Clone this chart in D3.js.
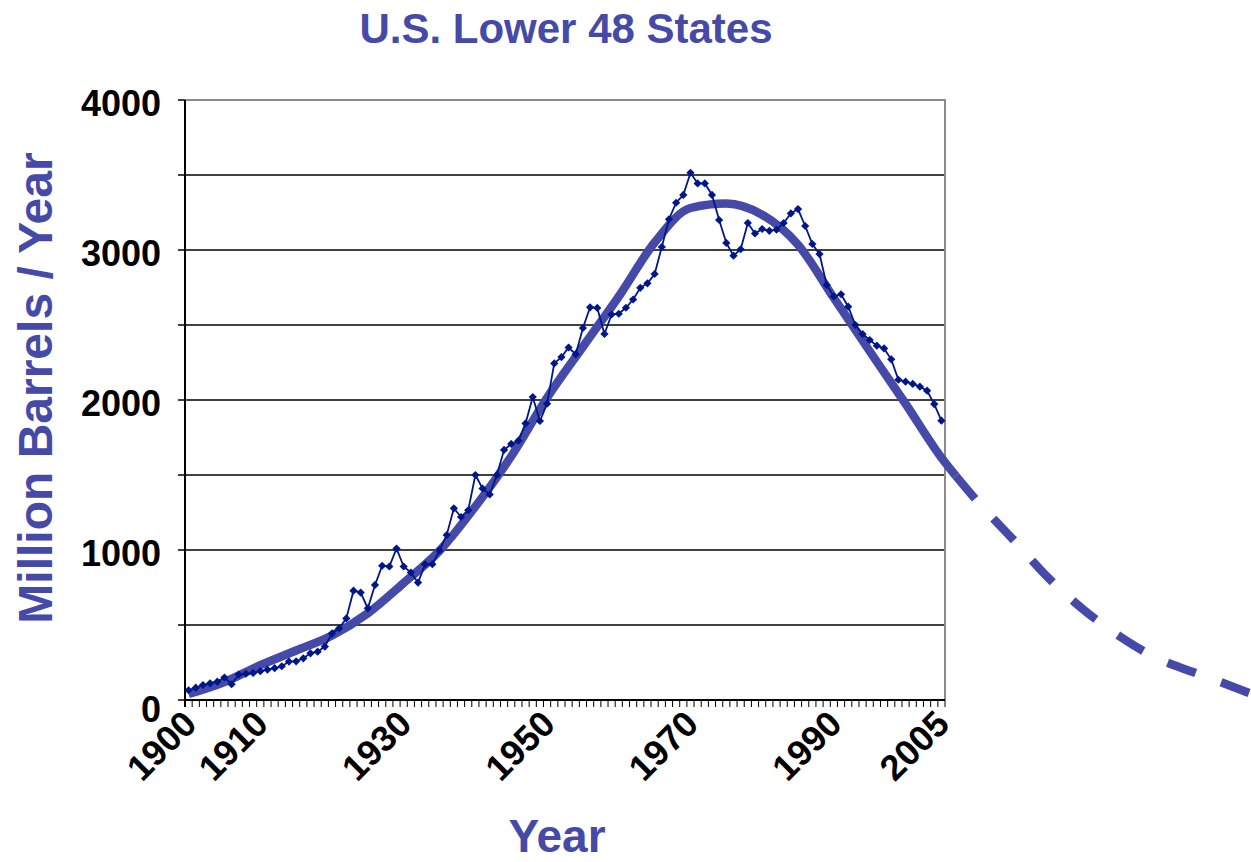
<!DOCTYPE html>
<html>
<head>
<meta charset="utf-8">
<script src="https://cdn.jsdelivr.net/npm/d3@7"></script>
<style>
body { margin:0; background:white; }
text { font-family: "Liberation Sans", Arial, sans-serif; font-weight: bold; }
</style>
</head>
<body>
<svg></svg>
<script>
//---------data---------
var years = d3.range(1900, 2006);
var production = [
	65, 82, 100, 111, 122, 150, 105, 170, 175, 180,
	192, 202, 212, 225, 256, 258, 278, 311, 322, 356,
	444, 478, 544, 729, 716, 611, 767, 895, 890, 1010,
	890, 850, 783, 905, 905, 997, 1100, 1278, 1220, 1265,
	1500, 1410, 1370, 1500, 1667, 1707, 1729, 1844, 2020, 1860,
	1975, 2244, 2286, 2350, 2305, 2480, 2618, 2614, 2440, 2570,
	2575, 2615, 2670, 2748, 2778, 2840, 3020, 3205, 3315, 3367,
	3515, 3444, 3444, 3367, 3200, 3047, 2962, 3005, 3180, 3110,
	3140, 3128, 3135, 3180, 3244, 3273, 3160, 3040, 2973, 2767,
	2690, 2705, 2622, 2500, 2440, 2400, 2362, 2344, 2271, 2135,
	2122, 2107, 2089, 2062, 1973, 1862
];
var fitYears = [1900, 1905, 1910, 1915, 1920, 1925, 1930, 1935, 1940, 1945, 1950, 1955, 1960, 1965, 1970, 1975, 1980, 1985, 1990, 1995, 2000, 2005, 2007];
var fitValues = [40, 120, 232, 330, 430, 578, 780, 995, 1290, 1625, 2015, 2355, 2690, 3050, 3280, 3310, 3235, 3035, 2680, 2325, 1975, 1615, 1495];
var projYears = [2007, 2010, 2015, 2020, 2025, 2030, 2035, 2040, 2045, 2048];
var projValues = [1495, 1325, 1070, 810, 595, 420, 280, 188, 100, 45];
var xTickLabels = [1900, 1910, 1930, 1950, 1970, 1990, 2005];
var yTickLabels = [0, 1000, 2000, 3000, 4000];
var yGridValues = [500, 1000, 1500, 2000, 2500, 3000, 3500];
var yTickValues = [0, 500, 1000, 1500, 2000, 2500, 3000, 3500, 4000];

var blue = "#4549a8";
var navy = "#00168c";

//----------fit curve + projection-------------
var drawFit = function (target, yearScale, yScale)
{
	var fitLine = d3.line()
		.x(function(d) { return yearScale(d.year) })
		.y(function(d) { return yScale(d.value) })
		.curve(d3.curveMonotoneX)

	var fit = fitYears.map(function(y, i) { return {year: y, value: fitValues[i]} })
	var proj = projYears.map(function(y, i) { return {year: y, value: projValues[i]} })

	target.append("path")
		.datum(fit)
		.attr("d", fitLine)
		.attr("fill", "none")
		.attr("stroke", blue)
		.attr("stroke-width", 8.5)

	target.append("path")
		.datum(proj)
		.attr("d", fitLine)
		.attr("fill", "none")
		.attr("stroke", blue)
		.attr("stroke-width", 8.5)
		.attr("stroke-dasharray", "30,27")
}

//----------data line with diamonds-------------
var drawPlot = function (target, xScale, yScale)
{
	var data = years.map(function(y, i) { return {year: y, value: production[i]} })
	var line = d3.line()
		.x(function(d) { return xScale(d.year) })
		.y(function(d) { return yScale(d.value) })

	target.append("path")
		.datum(data)
		.attr("d", line)
		.attr("fill", "none")
		.attr("stroke", navy)
		.attr("stroke-width", 1.8)

	target.selectAll(".marker")
		.data(data)
		.enter()
		.append("path")
		.classed("marker", true)
		.attr("d", d3.symbol().type(d3.symbolSquare).size(34))
		.attr("fill", navy)
		.attr("transform", function(d)
		{
			return "translate(" + xScale(d.year) + "," + yScale(d.value) + ") rotate(45)"
		})
}

//----------axes, grid-------------
var drawAxis = function (target, graph, xScale, yScale)
{
	// gridlines
	target.selectAll(".grid")
		.data(yGridValues)
		.enter()
		.append("line")
		.attr("x1", 0)
		.attr("x2", graph.width)
		.attr("y1", function(d) { return yScale(d) })
		.attr("y2", function(d) { return yScale(d) })
		.attr("stroke", "black")
		.attr("stroke-width", 1.5)

	// grey frame top and right
	target.append("path")
		.attr("d", "M0,0H" + graph.width + "V" + graph.height)
		.attr("fill", "none")
		.attr("stroke", "#8c8c8c")
		.attr("stroke-width", 2)

	// y axis
	target.append("line")
		.attr("x1", 0).attr("x2", 0)
		.attr("y1", 0).attr("y2", graph.height + 7)
		.attr("stroke", "black")
		.attr("stroke-width", 2)

	target.selectAll(".ytick")
		.data(yTickValues)
		.enter()
		.append("line")
		.attr("x1", -7)
		.attr("x2", 0)
		.attr("y1", function(d) { return yScale(d) })
		.attr("y2", function(d) { return yScale(d) })
		.attr("stroke", "black")
		.attr("stroke-width", 1.5)

	target.selectAll(".ylabel")
		.data(yTickLabels)
		.enter()
		.append("text")
		.text(function(d) { return d })
		.attr("text-anchor", "end")
		.attr("x", -24)
		.attr("y", function(d) { return yScale(d) + (d == 0 ? 9 : 3) })
		.attr("dy", "0.36em")
		.attr("font-size", 36)
		.attr("fill", "black")

	// x axis
	target.append("line")
		.attr("x1", 0).attr("x2", graph.width)
		.attr("y1", graph.height).attr("y2", graph.height)
		.attr("stroke", "black")
		.attr("stroke-width", 2)

	var step = xScale.step()
	var bounds = years.map(function(y) { return xScale(y) - step / 2 })
	bounds.push(xScale(years[years.length - 1]) + step / 2)
	target.selectAll(".xtick")
		.data(bounds)
		.enter()
		.append("line")
		.attr("x1", function(d) { return d })
		.attr("x2", function(d) { return d })
		.attr("y1", graph.height)
		.attr("y2", graph.height + 7)
		.attr("stroke", "black")
		.attr("stroke-width", 1)

	target.selectAll(".xlabel")
		.data(xTickLabels)
		.enter()
		.append("text")
		.text(function(d) { return d })
		.attr("text-anchor", "end")
		.attr("font-size", 36)
		.attr("fill", "black")
		.attr("transform", function(d)
		{
			return "translate(" + (xScale(d) + 10) + "," + (graph.height + 26) + ") rotate(-45)"
		})
}

var drawLabels = function (svg, margins, graph)
{
	svg.append("text")
		.text("U.S. Lower 48 States")
		.attr("text-anchor", "middle")
		.attr("x", 566)
		.attr("y", 43)
		.attr("font-size", 42)
		.attr("fill", blue)

	svg.append("text")
		.text("Year")
		.attr("text-anchor", "middle")
		.attr("x", 557)
		.attr("y", 852)
		.attr("font-size", 46)
		.attr("fill", blue)

	svg.append("text")
		.text("Million Barrels / Year")
		.attr("text-anchor", "middle")
		.attr("font-size", 48)
		.attr("fill", blue)
		.attr("transform", "translate(52,388) rotate(-90)")
}

//---------scale---------
var initgraph = function ()
{
	var screen = {width:1251, height:862}
	var margins = {left:185, top:100}
	var graph = {width:760, height:600}

	var svg = d3.select("svg")
		.attr("width", screen.width)
		.attr("height", screen.height)

	var target = svg.append("g")
		.attr("id", "graph")
		.attr("transform", "translate(" + margins.left + "," + margins.top + ")")

	var xScale = d3.scalePoint()
		.domain(years)
		.range([0, graph.width])
		.padding(0.5)
	var yearScale = d3.scaleLinear()
		.domain([years[0], years[years.length - 1]])
		.range([xScale(years[0]), xScale(years[years.length - 1])])
	var yScale = d3.scaleLinear()
		.domain([0, 4000])
		.range([graph.height, 0])

	drawAxis(target, graph, xScale, yScale)
	drawFit(target, yearScale, yScale)
	drawPlot(target, xScale, yScale)
	drawLabels(svg, margins, graph)
}

initgraph()
</script>
</body>
</html>
